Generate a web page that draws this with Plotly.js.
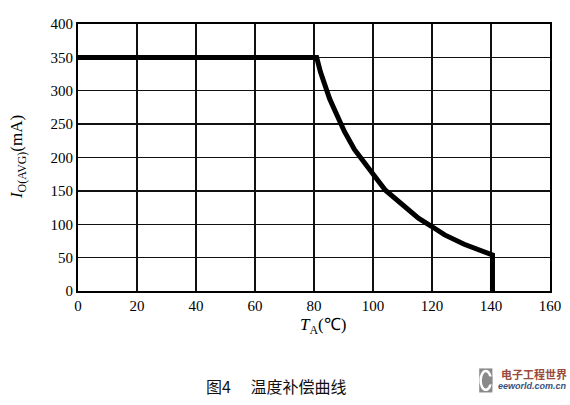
<!DOCTYPE html>
<html>
<head>
<meta charset="utf-8">
<script src="https://cdn.plot.ly/plotly-3.0.1.min.js"></script>
<style>html,body{margin:0;padding:0;background:#fff;}#chart{width:570px;height:405px;}</style>
</head>
<body>
<div id="chart"></div>
<script>
// Temperature (°C) and output current I_O(AVG) (mA)
var tempC = [0, 80.9, 82.2, 83.7, 85.3, 87, 88.6, 90.3, 93.7, 98.1, 100.9, 104.2, 109.8, 115.4, 119.8, 124.3, 130.9, 136.5, 140.5, 140.5];
var currentMA = [350, 350, 328, 306, 288, 271, 254, 239, 212, 185, 170, 151, 129, 109, 97, 84, 70, 61, 54, 0];
var xTicks = [0, 20, 40, 60, 80, 100, 120, 140, 160];
var yTicks = [0, 50, 100, 150, 200, 250, 300, 350, 400];
var xTitle = '<i>T</i><sub>A</sub>(℃)';
var yTitle = '<i>I</i><sub>O(AVG)</sub>(mA)';
var caption = '图4\u3000 温度补偿曲线';

var serif = 'Times New Roman';

var traces = [{
  x: tempC, y: currentMA, type: 'scatter', mode: 'lines',
  line: {color: '#000', width: 5, shape: 'linear'},
  hoverinfo: 'skip', showlegend: false
}];

function axis(range, ticks) {
  return {
    range: range, tickvals: ticks, ticktext: ticks.map(String),
    showgrid: true, gridcolor: '#111', gridwidth: 1.3,
    showline: true, linecolor: '#000', linewidth: 2, mirror: true,
    zeroline: false, ticks: '', fixedrange: true,
    tickfont: {family: serif, size: 15, color: '#000'}
  };
}

var layout = {
  width: 570, height: 405,
  margin: {l: 78, r: 20, t: 24, b: 114},
  paper_bgcolor: '#fff', plot_bgcolor: '#fff',
  showlegend: false,
  font: {family: serif, color: '#000', size: 15},
  xaxis: axis([0, 160], xTicks),
  yaxis: axis([0, 400], yTicks),
  annotations: [
    {text: xTitle, xref: 'paper', yref: 'paper', x: 0.52, y: -0.13, xanchor: 'center', yanchor: 'middle', showarrow: false,
     font: {family: serif, size: 17, color: '#000'}},
    {text: yTitle, xref: 'paper', yref: 'paper', x: -0.128, y: 0.5, textangle: -90, xanchor: 'center', yanchor: 'middle', showarrow: false,
     font: {family: serif, size: 17, color: '#000'}},
    {text: caption, xref: 'paper', yref: 'paper', x: 0.42, y: -0.355, xanchor: 'center', yanchor: 'middle', showarrow: false,
     font: {family: 'Noto Sans CJK SC', size: 16, color: '#111'}},
    {text: '<b>电子工程世界</b>', xref: 'paper', yref: 'paper', x: 1.04, y: -0.31, xanchor: 'right', yanchor: 'middle', showarrow: false,
     font: {family: 'Noto Sans CJK SC', size: 11, color: '#9a4a3a'}},
    {text: '<i><b>eeworld.com.cn</b></i>', xref: 'paper', yref: 'paper', x: 1.04, y: -0.355, xanchor: 'right', yanchor: 'middle', showarrow: false,
     font: {family: 'Liberation Sans', size: 9, color: '#3a4f7a'}}
  ],
  shapes: [
    {type: 'rect', xref: 'paper', yref: 'paper', x0: 0.85, x1: 0.878, y0: -0.38, y1: -0.29, fillcolor: '#8a8a8a', line: {width: 0}},
    {type: 'circle', xref: 'paper', yref: 'paper', x0: 0.853, x1: 0.875, y0: -0.37, y1: -0.30, fillcolor: 'rgba(0,0,0,0)', line: {color: '#fff', width: 2.5}},
    {type: 'rect', xref: 'paper', yref: 'paper', x0: 0.866, x1: 0.878, y0: -0.35, y1: -0.32, fillcolor: '#8a8a8a', line: {width: 0}}
  ]
};

Plotly.newPlot('chart', traces, layout, {displayModeBar: false, staticPlot: true});
</script>
</body>
</html>
